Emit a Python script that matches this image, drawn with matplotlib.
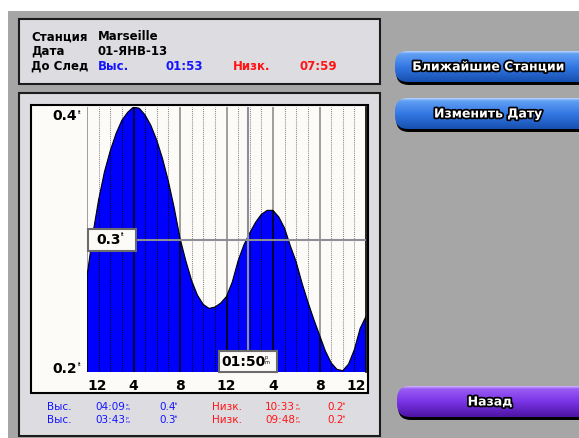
import numpy as np
import matplotlib
matplotlib.use("Agg")
import matplotlib.pyplot as plt
from matplotlib.patches import Rectangle, FancyBboxPatch, Polygon
from matplotlib.colors import LinearSegmentedColormap
import matplotlib.patheffects as pe

# tide curve for 01-JAN-13, read every half hour off the screen (ft)
hours = np.arange(0, 24.5, 0.5)
tide_ft = [0.272, 0.304, 0.330, 0.351, 0.367, 0.380, 0.390, 0.396, 0.400, 0.399,
           0.394, 0.386, 0.375, 0.361, 0.344, 0.324, 0.301, 0.284, 0.269, 0.258,
           0.251, 0.248, 0.249, 0.252, 0.257, 0.268, 0.284, 0.296, 0.305, 0.313,
           0.319, 0.322, 0.322, 0.317, 0.3085, 0.295, 0.283, 0.267, 0.253, 0.240,
           0.228, 0.216, 0.207, 0.202, 0.201, 0.206, 0.217, 0.233, 0.242]

hour_ticks = [0, 4, 8, 12, 16, 20, 24]
hour_labels = ["12", "4", "8", "12", "4", "8", "12"]
level_ticks = [0.2, 0.4]
level_labels = ["0.2", "0.4"]
cursor_time = 13 + 50 / 60
cursor_level = 0.3
cursor_time_label = "01:50"
cursor_level_label = "0.3"

station = "Marseille"
date = "01-ЯНВ-13"
next_high = "01:53"
next_low = "07:59"

high_times = ["04:09", "03:43"]
high_ampm = ["am", "pm"]
high_levels = ["0.4", "0.3"]
low_times = ["10:33", "09:48"]
low_ampm = ["am", "pm"]
low_levels = ["0.2", "0.2"]

W, H = 579, 438
BLUE = "#1414ff"
RED = "#ff1414"

fig = plt.figure(figsize=(W / 100, H / 100), dpi=100)
fig.patch.set_facecolor("white")

bg = fig.add_axes([0, 0, 1, 1])
bg.set_xlim(0, W)
bg.set_ylim(H, 0)
bg.axis("off")

# screen background
bg.add_patch(Rectangle((8, 11), W, H, fc="#a6a6a6", ec="none"))
# info panel
bg.add_patch(Rectangle((19, 19), 361, 65, fc="#dddce1", ec="#1c1c1c", lw=1.5))
# chart panel
bg.add_patch(Rectangle((19, 93), 361, 343, fc="#dddce1", ec="#1c1c1c", lw=1.5))
bg.add_patch(Rectangle((31, 105), 337, 288, fc="#fdfbf7", ec="black", lw=1.5))

# header
hdr = dict(fontsize=8.5, fontweight="bold", va="center", ha="left")
bg.text(31, 37, "Станция", **hdr)
bg.text(31, 51.5, "Дата", **hdr)
bg.text(31, 66, "До След", **hdr)
bg.text(98, 37, station, **hdr)
bg.text(98, 51.5, date, **hdr)
bg.text(98, 66, "Выс.", color=BLUE, **hdr)
bg.text(166, 66, next_high, color=BLUE, **hdr)
bg.text(233, 66, "Низк.", color=RED, **hdr)
bg.text(300, 66, next_low, color=RED, **hdr)

# high / low table
tb = dict(fontsize=7.5, va="center", ha="left")
tiny = dict(fontsize=3.2, va="center", ha="left")
for i, yy in enumerate([407, 420]):
    bg.text(47, yy, "Выс.", color=BLUE, **tb)
    bg.text(95, yy, high_times[i], color=BLUE, **tb)
    bg.text(126, yy - 2.5, high_ampm[i][0], color=BLUE, **tiny)
    bg.text(126, yy + 2, high_ampm[i][1], color=BLUE, **tiny)
    bg.text(159, yy, high_levels[i], color=BLUE, **tb)
    bg.text(175, yy - 3, "ft", color=BLUE, **tiny)
    bg.text(212, yy, "Низк.", color=RED, **tb)
    bg.text(265, yy, low_times[i], color=RED, **tb)
    bg.text(296, yy - 2.5, low_ampm[i][0], color=RED, **tiny)
    bg.text(296, yy + 2, low_ampm[i][1], color=RED, **tiny)
    bg.text(327, yy, low_levels[i], color=RED, **tb)
    bg.text(343, yy - 3, "ft", color=RED, **tiny)


def button(x0, y0, h, label, stops):
    bg.add_patch(FancyBboxPatch((x0 + 1, y0 + 3), 250, h, fc="black", ec="none",
                                boxstyle="round,pad=0,rounding_size=13", zorder=1))
    box = FancyBboxPatch((x0, y0), 250, h, fc="none", ec="none",
                         boxstyle="round,pad=0,rounding_size=13", zorder=2)
    bg.add_patch(box)
    cmap = LinearSegmentedColormap.from_list("b", stops)
    grad = np.linspace(0, 1, 64).reshape(-1, 1)
    im = bg.imshow(grad, cmap=cmap, extent=[x0, x0 + 250, y0 + h, y0],
                   origin="upper", aspect="auto", interpolation="bilinear", zorder=2.5)
    im.set_clip_path(box)
    bg.text(x0 + 93, y0 + h / 2 + 0.5, label, color="white", fontsize=9,
            fontweight="bold", ha="center", va="center", zorder=3,
            path_effects=[pe.withStroke(linewidth=2.5, foreground="black")])


blue_stops = [(0, "#b8d4ff"), (0.08, "#62a0f4"), (0.5, "#3478e4"), (1, "#1650b0")]
purple_stops = [(0, "#d2b4ff"), (0.08, "#9a5cf4"), (0.5, "#7a34e6"), (1, "#4e14a4")]
button(395, 51, 31, "Ближайшие Станции", blue_stops)
button(395, 98, 31, "Изменить Дату", blue_stops)
button(397, 386, 31, "Назад", purple_stops)
bg.set_xlim(0, W)
bg.set_ylim(H, 0)

# tide chart
ax = fig.add_axes([87 / W, (H - 372) / H, 279 / W, 265 / H])
ax.set_xlim(0, 24)
ax.set_ylim(0.2, 0.4)
ax.patch.set_alpha(0)
for s in ["left", "top", "bottom"]:
    ax.spines[s].set_visible(False)
ax.spines["right"].set_color("black")
ax.spines["right"].set_linewidth(1.2)

verts = [(0, 0.2)] + list(zip(hours, tide_ft)) + [(24, 0.2)]
area = Polygon(verts, closed=True, fc="#0000ff", ec="none", zorder=2)
ax.add_patch(area)

for h in range(0, 24):
    solid = h % 4 == 0
    ls = "-" if solid else (0, (1, 1))
    ax.axvline(h, color="#858585" if solid else "#8a8a8a", lw=1.1 if solid else 0.75,
               ls=ls, zorder=1)
    ln = ax.axvline(h, color="black", lw=1.1 if solid else 0.75, ls=ls, zorder=3)
    ln.set_clip_path(area)

ax.plot(hours, tide_ft, color="black", lw=0.8, zorder=4)

ax.set_xticks(hour_ticks, hour_labels)
ax.tick_params(axis="x", length=0, pad=5, labelsize=10)
for lab in ax.get_xticklabels():
    lab.set_fontweight("bold")
ax.get_xticklabels()[0].set_ha("left")
ax.get_xticklabels()[-1].set_ha("right")
ax.set_yticks([])

# cursor
cur = "#8e8e96"
ax.axvline(cursor_time, color=cur, lw=1.5, zorder=5)
ax.axhline(cursor_level, color=cur, lw=1.5, zorder=5)

fg = fig.add_axes([0, 0, 1, 1])
fg.set_xlim(0, W)
fg.set_ylim(H, 0)
fg.axis("off")
fg.patch.set_alpha(0)


def to_px(x, y):
    dx, dy = ax.transData.transform((x, y))
    return dx, H - dy


for v, lbl, off in zip(level_ticks, level_labels, [-3, 9.5]):
    px, py = to_px(0, v)
    fg.text(px - 10, py + off, lbl, fontsize=10, fontweight="bold", ha="right", va="center")
    fg.text(px - 9, py + off - 4, "ft", fontsize=3.5, ha="left", va="center")

# level box
px, py = to_px(0, cursor_level)
fg.add_patch(Rectangle((px + 1, py - 11), 48, 22, fc="#fdfbf7", ec="#6c6c6c", lw=1.5))
fg.text(px + 22, py + 0.5, cursor_level_label, fontsize=10, fontweight="bold",
        ha="center", va="center")
fg.text(px + 34, py - 5, "ft", fontsize=3.5, ha="left", va="center")

# time box
px, py = to_px(cursor_time, 0.2)
fg.add_patch(Rectangle((px - 29, py - 21), 58, 21, fc="#fdfbf7", ec="#6c6c6c", lw=1.5))
fg.text(px - 4, py - 10, cursor_time_label, fontsize=10, fontweight="bold",
        ha="center", va="center")
fg.text(px + 17, py - 14, "p", fontsize=3.5, ha="left", va="center")
fg.text(px + 17, py - 9, "m", fontsize=3.5, ha="left", va="center")

fig.savefig("out.png", dpi=100)
